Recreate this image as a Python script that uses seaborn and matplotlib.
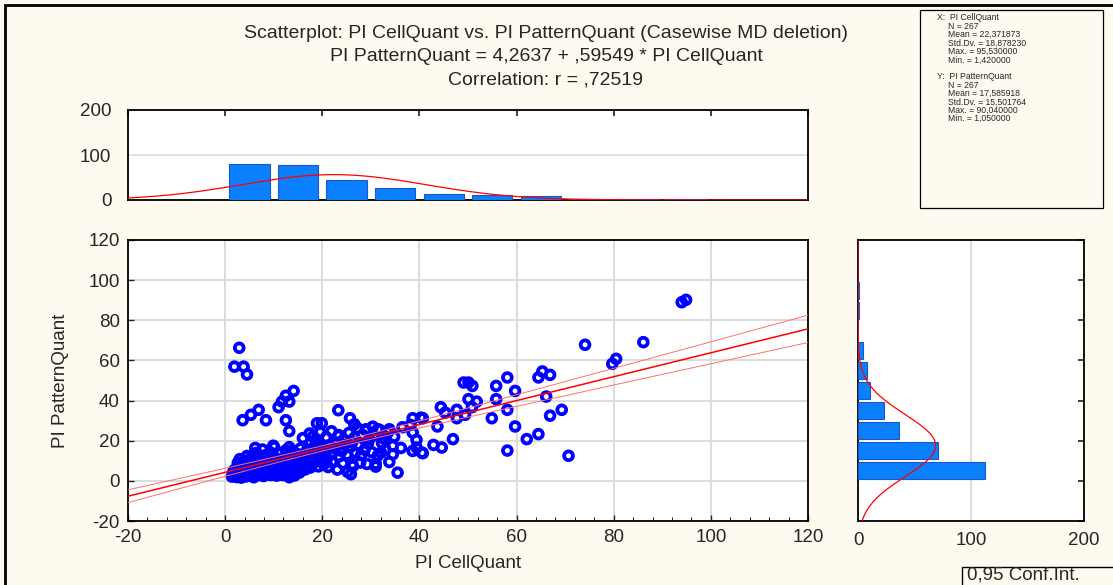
import numpy as np
import pandas as pd
import matplotlib
matplotlib.use("Agg")
import matplotlib.pyplot as plt
import seaborn as sns
from matplotlib.patches import Rectangle

# ---------------- data ----------------
# scattered / outlying points
out_x = [2.9, 1.9, 3.8, 4.5, 14.1, 12.5, 11.7, 13.2, 11.0, 6.9, 5.3, 3.6, 8.4, 12.5, 13.2,
         18.9, 10.1, 13.2, 18.1, 5.3, 13.2, 19.9,
         23.3, 25.7, 26.6, 29.0, 23.4, 25.9, 25.2, 26.2, 30.4, 31.4, 33.8, 38.6, 38.2, 38.6,
         39.4, 39.4, 38.6, 34.5, 35.5, 31.0, 32.1,
         40.3, 40.5, 49.1, 44.4, 45.3, 47.7, 49.4, 47.7, 40.7, 43.7, 46.9, 42.9, 44.6, 40.7,
         58.1, 50.1, 50.9, 55.8, 59.7, 50.1, 51.8, 55.8, 50.8, 54.9, 58.1, 59.7, 58.1,
         65.3, 64.5, 66.9, 66.1, 69.3, 66.9, 62.1, 64.5,
         70.7, 74.1, 79.7, 80.5, 86.1, 94.0, 94.9]
out_y = [66.3, 56.9, 56.9, 53.0, 44.8, 42.4, 39.5, 39.5, 36.7, 35.4, 32.9, 30.2, 30.2, 30.2, 24.8,
         28.7, 16.8, 16.8, 22.1, 11.6, 1.8, 28.7,
         35.2, 31.2, 28.2, 25.7, 22.8, 3.3, 4.5, 8.3, 27.0, 25.7, 25.7, 31.2, 27.9, 24.1,
         20.4, 16.6, 14.9, 17.4, 4.1, 7.1, 14.1,
         31.5, 14.1, 49.0, 36.7, 34.0, 35.4, 32.9, 31.2, 31.2, 27.1, 20.8, 17.9, 16.6, 13.8,
         51.5, 49.0, 47.3, 47.3, 44.8, 40.7, 39.5, 40.7, 36.7, 31.2, 35.4, 27.1, 15.1,
         54.5, 51.5, 52.8, 42.0, 35.4, 32.5, 20.8, 23.3,
         12.5, 67.8, 58.3, 60.8, 69.1, 89.0, 90.2]

# dense cluster, x in 0-10
clu1_x = [1.4, 1.6, 1.8, 2.0, 2.2, 2.4, 2.5, 2.7, 2.9, 3.1, 3.2, 3.4, 3.6, 3.8, 3.9, 4.1, 4.3, 4.4,
          4.6, 4.8, 5.0, 5.1, 5.3, 5.5, 5.6, 5.8, 6.0, 6.1, 6.3, 6.5, 6.6, 6.8, 7.0, 7.1, 7.3, 7.5,
          7.6, 7.8, 8.0, 8.1, 8.3, 8.5, 8.6, 8.8, 9.0, 9.1, 9.3, 9.5, 9.6, 9.8, 2.6, 4.0, 5.9, 7.9,
          9.4, 3.3, 6.9, 8.9, 3.0, 4.5, 5.7, 6.4, 7.2, 7.7, 8.2, 8.7, 9.2, 9.7, 6.2, 9.9]
clu1_y = [2.1, 3.8, 5.2, 2.6, 4.4, 1.9, 6.8, 3.2, 5.9, 2.3, 4.1, 7.6, 2.9, 5.4, 3.6, 8.3, 2.2, 4.8,
          6.2, 3.1, 9.4, 5.0, 2.7, 7.2, 4.2, 3.4, 6.0, 8.8, 2.5, 5.3, 4.0, 7.0, 3.0, 9.9, 5.7, 4.5,
          2.8, 6.6, 8.1, 3.7, 5.1, 9.2, 4.3, 6.9, 3.3, 7.7, 5.6, 8.6, 4.7, 6.3, 8.9, 9.7, 1.8, 2.4,
          2.9, 1.6, 9.5, 9.8, 10.8, 12.4, 10.3, 13.9, 11.2, 15.6, 12.7, 10.5, 14.3, 11.8, 16.4, 17.5]
# dense cluster, x in 10-20
clu2_x = [10.1, 10.3, 10.5, 10.6, 10.8, 11.0, 11.2, 11.3, 11.5, 11.7, 11.9, 12.0, 12.2, 12.4,
          12.6, 12.7, 12.9, 13.1, 13.3, 13.5, 13.6, 13.8, 14.0, 14.2, 14.3, 14.5, 14.7, 14.9,
          15.1, 15.3, 15.6, 15.9, 16.2, 16.5, 16.8, 17.1, 17.5, 18.0, 18.6, 19.2,
          10.4, 11.1, 11.8, 12.5, 13.0, 13.7, 14.4, 15.0, 15.5, 15.8, 16.4, 16.9, 17.3, 17.8,
          18.3, 18.8, 19.1, 19.5, 19.8, 17.6, 16.0, 17.4, 18.9, 19.6]
clu2_y = [3.4, 5.8, 7.9, 2.6, 4.7, 9.0, 6.2, 3.9, 8.4, 5.1, 2.9, 7.3, 9.6, 4.4, 6.7, 3.2, 8.8,
          5.5, 7.0, 3.8, 9.3, 6.0, 4.6, 8.1, 2.7, 6.9, 9.7, 5.3, 7.6, 4.1, 8.9, 6.4, 9.5, 5.7,
          7.8, 9.1, 6.6, 8.5, 9.8, 7.2,
          11.4, 13.6, 10.7, 15.2, 12.1, 14.8, 11.0, 13.3, 16.1, 10.6, 12.9, 15.4, 11.7, 14.0,
          16.9, 12.4, 18.2, 14.7, 10.9, 18.8, 21.3, 23.6, 20.5, 24.2]
# dense cluster, x in 20-40
clu3_x = [20.3, 21.2, 22.0, 23.1, 24.2, 26.3, 27.8, 29.2,
          20.1, 20.6, 21.0, 21.5, 22.1, 22.6, 23.0, 23.5, 24.0, 24.6, 25.1, 25.7, 26.2, 26.8,
          27.4, 28.0, 28.7, 29.4,
          20.8, 21.9, 23.3, 24.4, 25.5, 26.6, 27.2, 28.3, 29.0, 29.7,
          31.0, 33.8, 30.2, 31.4, 32.3, 33.0, 34.5, 36.2, 30.6, 31.8, 32.6, 33.5, 34.8, 36.5]
clu3_y = [8.2, 6.9, 9.4, 5.6, 8.7, 7.3, 9.1, 8.4,
          12.6, 15.9, 11.3, 17.4, 13.8, 16.2, 19.1, 12.2, 14.9, 18.0, 13.1, 16.7, 19.4, 14.2,
          17.6, 12.8, 15.5, 18.6,
          21.8, 24.7, 22.4, 20.6, 23.9, 21.5, 26.3, 22.9, 25.1, 20.9,
          8.6, 9.4, 14.3, 12.5, 18.9, 15.6, 13.2, 16.4, 22.7, 25.4, 21.2, 24.1, 22.0, 26.7]

# histogram counts (bins of width 10 starting at 0)
bin_starts = [0, 10, 20, 30, 40, 50, 60, 70, 80, 90]
x_counts = [79, 77, 45, 26, 14, 12, 8, 2, 2, 2]
y_counts = [112, 71, 36, 23, 11, 8, 4, 0, 1, 1]

# summary statistics shown on the chart
n_obs = 267
x_mean, x_sd = 22.371873, 18.878230
y_mean, y_sd = 17.585918, 15.501764
intercept, slope, r_val = 4.2637, 0.59549, 0.72519

title_lines = ["Scatterplot: PI CellQuant vs. PI PatternQuant (Casewise MD deletion)",
               "PI PatternQuant = 4,2637 + ,59549 * PI CellQuant",
               "Correlation: r = ,72519"]
stats_lines = ["X:  PI CellQuant", "N = 267", "Mean = 22,371873", "Std.Dv. = 18,878230",
               "Max. = 95,530000", "Min. = 1,420000", "",
               "Y:  PI PatternQuant", "N = 267", "Mean = 17,585918", "Std.Dv. = 15,501764",
               "Max. = 90,040000", "Min. = 1,050000"]

df = pd.DataFrame({"PI CellQuant": out_x + clu1_x + clu2_x + clu3_x,
                   "PI PatternQuant": out_y + clu1_y + clu2_y + clu3_y})

# ---------------- styling ----------------
sns.set_theme(style="white")
plt.rcParams["font.family"] = ["Liberation Sans", "DejaVu Sans"]
plt.rcParams["axes.unicode_minus"] = False

BG = "#FFFAF0"
BAR = "#0A80FF"
BAR_EDGE = "#1E56C8"
GRID = "#DCDCDC"

W, H = 1113, 585
fig = plt.figure(figsize=(W / 100, H / 100), dpi=100, facecolor=BG)


def ax_at(l, t, r, b):
    return fig.add_axes([l / W, 1 - b / H, (r - l) / W, (b - t) / H])


ax_top = ax_at(128, 110, 808, 200)
ax_sc = ax_at(128, 240, 808, 521)
ax_rt = ax_at(858, 240, 1084, 521)

for a in (ax_top, ax_sc, ax_rt):
    a.set_facecolor("white")
    for s in a.spines.values():
        s.set_color("black")
        s.set_linewidth(1.3)
        s.set_visible(True)

TICK_FS = 13.5

# ---------------- scatter ----------------
ax_sc.set_xlim(-20, 120)
ax_sc.set_ylim(-20, 120)
ax_sc.set_xticks(range(-20, 121, 20))
ax_sc.set_yticks(range(-20, 121, 20))
ax_sc.set_xticks(np.arange(-20, 121, 4), minor=True)
ax_sc.grid(True, which="major", color=GRID, linewidth=1.4)
ax_sc.set_axisbelow(True)

xx = np.linspace(-20, 120, 300)
yy = intercept + slope * xx
resid_sd = y_sd * np.sqrt(1 - r_val ** 2) * np.sqrt((n_obs - 1) / (n_obs - 2))
sxx = (n_obs - 1) * x_sd ** 2
ci = 1.969 * resid_sd * np.sqrt(1 / n_obs + (xx - x_mean) ** 2 / sxx)

sns.scatterplot(data=df, x="PI CellQuant", y="PI PatternQuant", ax=ax_sc, marker="o",
                s=40, facecolors="none", edgecolor="#0000FF", linewidth=2.7, zorder=3)
ax_sc.plot(xx, yy, color="#FF0000", lw=1.1, zorder=4)
ax_sc.plot(xx, yy + ci, color="#FF7070", lw=0.7, zorder=4)
ax_sc.plot(xx, yy - ci, color="#FF7070", lw=0.7, zorder=4)
ax_sc.set_xlabel("PI CellQuant", fontsize=TICK_FS, labelpad=6)
ax_sc.set_ylabel("PI PatternQuant", fontsize=TICK_FS, labelpad=14)
ax_sc.tick_params(axis="both", which="major", direction="in", length=4, width=1,
                  labelsize=TICK_FS, pad=6, bottom=True, left=True)
ax_sc.tick_params(axis="x", which="minor", direction="in", length=3, width=0.8, bottom=True)

# ---------------- top histogram (X) ----------------
centers = np.array(bin_starts) + 5
ax_top.bar(centers, x_counts, width=8.3, color=BAR, edgecolor=BAR_EDGE, linewidth=0.8, zorder=3)
pdf_x = n_obs * 10 / (x_sd * np.sqrt(2 * np.pi)) * np.exp(-0.5 * ((xx - x_mean) / x_sd) ** 2)
ax_top.plot(xx, pdf_x, color="#FF0000", lw=0.9, zorder=4)
ax_top.set_xlim(-20, 120)
ax_top.set_ylim(0, 200)
ax_top.set_yticks([0, 100, 200])
ax_top.set_xticks(range(-20, 121, 20))
ax_top.grid(True, axis="y", color=GRID, linewidth=1.2)
ax_top.set_axisbelow(True)
ax_top.tick_params(axis="x", direction="in", length=4, top=True, bottom=False,
                   labelbottom=False, labeltop=False)
ax_top.tick_params(axis="y", direction="in", length=0, labelsize=TICK_FS, pad=12)

# ---------------- right histogram (Y) ----------------
ax_rt.barh(centers, y_counts, height=8.3, color=BAR, edgecolor=BAR_EDGE, linewidth=0.8, zorder=3)
pdf_y = n_obs * 10 / (y_sd * np.sqrt(2 * np.pi)) * np.exp(-0.5 * ((xx - y_mean) / y_sd) ** 2)
ax_rt.plot(pdf_y, xx, color="#FF0000", lw=0.9, zorder=4)
ax_rt.set_ylim(-20, 120)
ax_rt.set_xlim(0, 200)
ax_rt.set_xticks([0, 100, 200])
ax_rt.set_yticks(range(-20, 121, 20))
ax_rt.grid(True, axis="x", color=GRID, linewidth=1.4)
ax_rt.set_axisbelow(True)
ax_rt.tick_params(axis="y", direction="in", length=4, left=False, right=True,
                  labelleft=False, labelright=False)
ax_rt.tick_params(axis="x", direction="in", length=0, labelsize=TICK_FS, pad=8)

# ---------------- texts ----------------
for i, line in enumerate(title_lines):
    fig.text(546 / W, 1 - (33 + 23.5 * i) / H, line, ha="center", va="center", fontsize=14)

fig.patches.append(Rectangle((920 / W, 1 - 208 / H), 183 / W, 198 / H, transform=fig.transFigure,
                             facecolor=BG, edgecolor="black", lw=0.9, zorder=5))
for i, line in enumerate(stats_lines):
    if not line:
        continue
    head = line.startswith(("X:", "Y:"))
    fig.text((937 if head else 948) / W, 1 - (18 + 8.4 * i) / H, line, ha="left", va="center",
             fontsize=6.2, zorder=6)

fig.patches.append(Rectangle((962 / W, 1 - 600 / H), 200 / W, 33 / H, transform=fig.transFigure,
                             facecolor=BG, edgecolor="black", lw=1.0, zorder=5))
fig.text(967 / W, 1 - 575.5 / H, "0,95 Conf.Int.", ha="left", va="center", fontsize=13.5, zorder=6)

# outer frame
fig.patches.append(Rectangle((5 / W, -0.1), 1.2, 1 - 5 / H + 0.1, transform=fig.transFigure,
                             facecolor="none", edgecolor="black", lw=2.0, zorder=1))

fig.savefig("out.png", dpi=100, facecolor=BG)
